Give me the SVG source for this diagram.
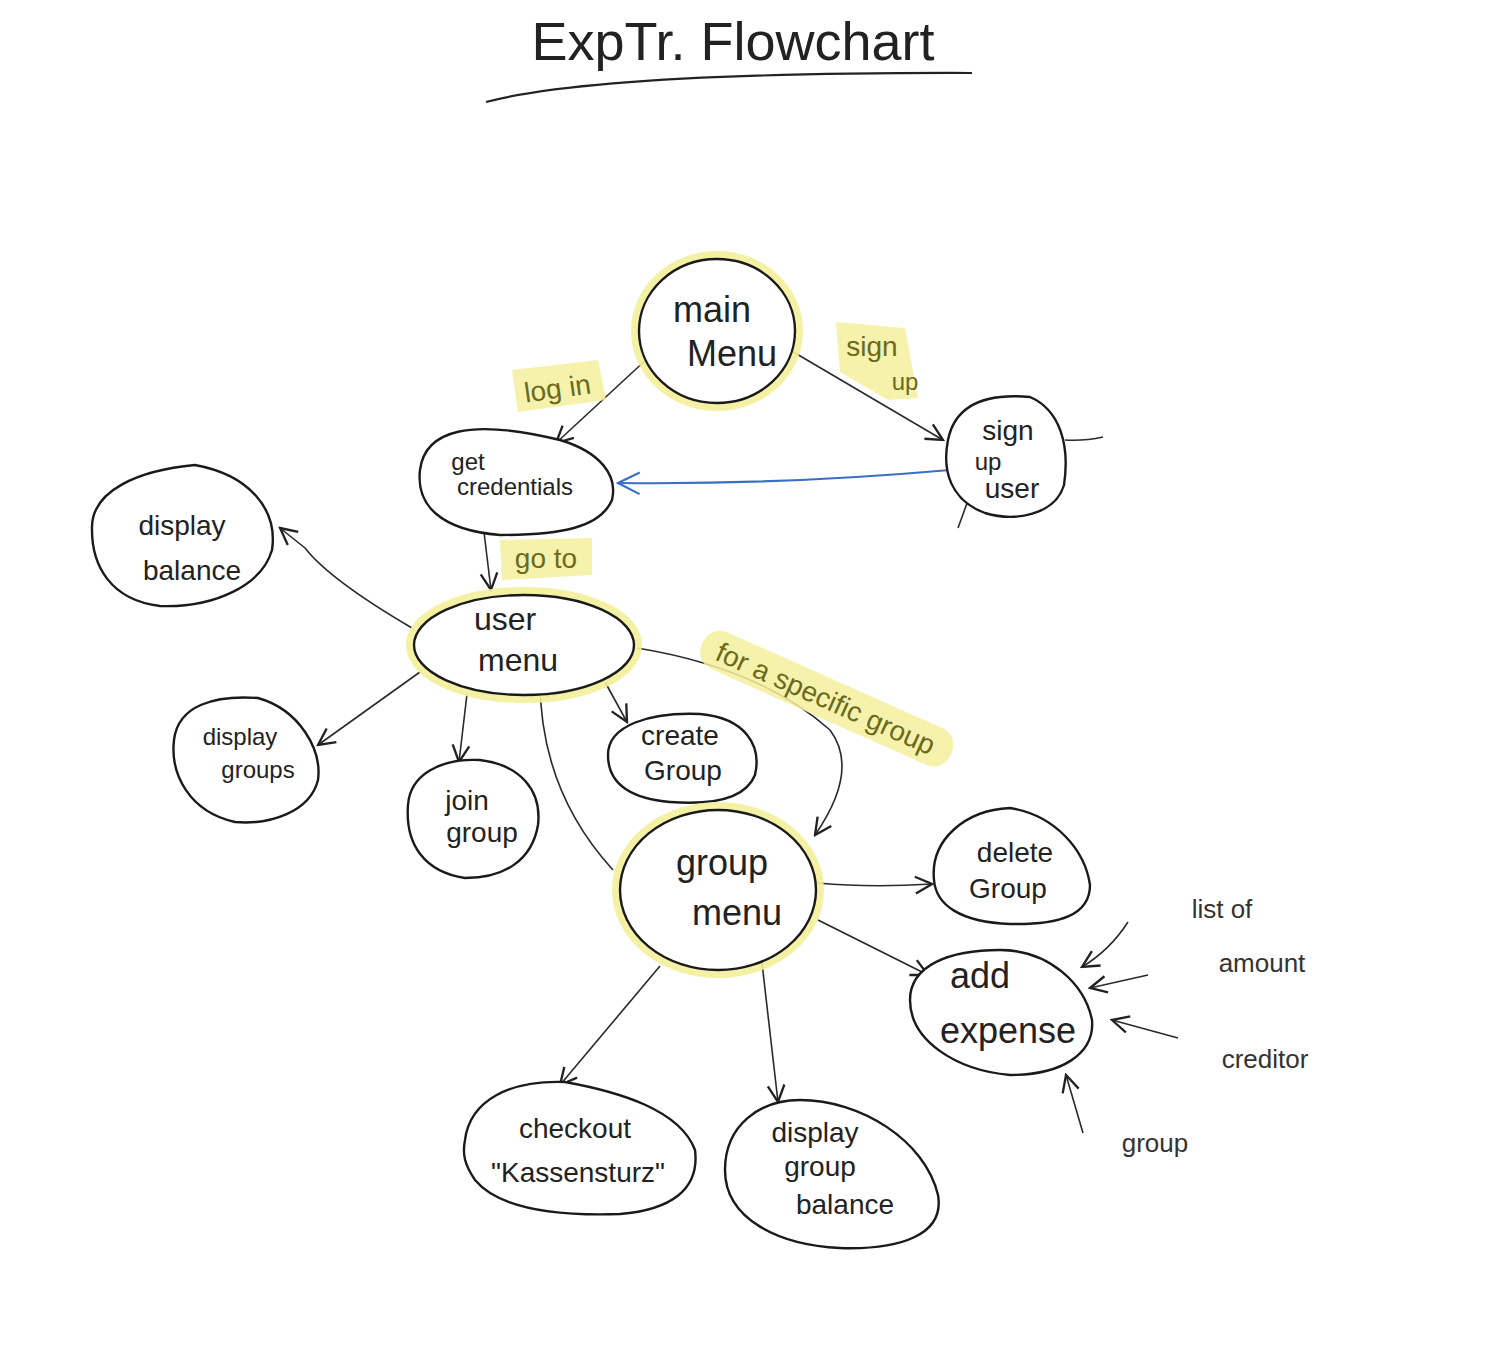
<svg xmlns="http://www.w3.org/2000/svg" width="1510" height="1372" viewBox="0 0 1510 1372">
<style>
.node{fill:#fff;stroke:#1a1a1a;stroke-width:2.4}
.halo{fill:none;stroke:#f3ef9a;stroke-width:16;opacity:.9}
.t{font-family:"Liberation Sans",Arial,sans-serif;fill:#222;text-anchor:middle}
.big{font-size:36px}
.um{font-size:32px}
.mid{font-size:28px}
.sm{font-size:24px}
.edge{fill:none;stroke:#2a2a2a;stroke-width:1.6}
.hl{fill:#f4f09c;opacity:.85}
.ol{fill:#6b6a1c}
.side{font-family:"Liberation Sans",Arial,sans-serif;font-size:26px;fill:#333;text-anchor:middle}
</style>
<defs>
<marker id="arr" viewBox="0 0 12 12" refX="11" refY="6" markerWidth="20" markerHeight="20" markerUnits="userSpaceOnUse" orient="auto">
<path d="M1,1 L11,6 L1,11" fill="none" stroke="#222" stroke-width="1.4"/>
</marker>
<marker id="arrb" viewBox="0 0 12 12" refX="11" refY="6" markerWidth="26" markerHeight="26" markerUnits="userSpaceOnUse" orient="auto">
<path d="M1,1 L11,6 L1,11" fill="none" stroke="#3a6fc4" stroke-width="1"/>
</marker>
</defs>
<rect width="1510" height="1372" fill="#fff"/>

<g id="title">
<text class="t" x="733" y="60" font-size="54" fill="#333">ExpTr. Flowchart</text>
<path d="M486,102 Q600,72 972,73" fill="none" stroke="#222" stroke-width="2.2"/>
</g>

<g id="connectors">
<path class="edge" d="M648,358 L556,443" marker-end="url(#arr)"/>
<path class="edge" d="M790,350 L943,440" marker-end="url(#arr)"/>
<path d="M950,470 Q780,485 618,483" fill="none" stroke="#3a6fc4" stroke-width="2.2" marker-end="url(#arrb)"/>
<path class="edge" d="M484,532 L491,590" marker-end="url(#arr)"/>
<path class="edge" d="M412,628 Q330,580 305,548 L280,528" marker-end="url(#arr)"/>
<path class="edge" d="M420,672 L318,745" stroke-width="2" marker-end="url(#arr)"/>
<path class="edge" d="M467,694 L459,762" marker-end="url(#arr)"/>
<path class="edge" d="M605,682 L627,722" marker-end="url(#arr)"/>
<path class="edge" d="M637,648 Q760,668 830,730 Q860,770 815,835" stroke-width="2" marker-end="url(#arr)"/>
<path class="edge" d="M613,870 Q540,790 540,680" marker-end="url(#arr)"/>
<path class="edge" d="M818,883 Q870,888 932,884" marker-end="url(#arr)"/>
<path class="edge" d="M818,920 L928,975" marker-end="url(#arr)"/>
<path class="edge" d="M660,966 L560,1085" marker-end="url(#arr)"/>
<path class="edge" d="M762,963 L778,1102" marker-end="url(#arr)"/>
<path class="edge" d="M1128,922 Q1110,950 1082,967" marker-end="url(#arr)"/>
<path class="edge" d="M1148,975 L1090,988" marker-end="url(#arr)"/>
<path class="edge" d="M1178,1038 L1112,1020" marker-end="url(#arr)"/>
<path class="edge" d="M1083,1133 L1066,1075" marker-end="url(#arr)"/>
<path class="edge" d="M1065,440 Q1085,441 1103,437"/>
<path class="edge" d="M958,528 L970,495"/>
</g>

<g id="labels">
<path class="hl" d="M512,370 L598,360 L606,400 L518,412 Z"/>
<text class="t mid ol" x="558" y="398" transform="rotate(-8 558 392)">log in</text>
<path class="hl" d="M836,322 L905,328 L918,398 L888,400 L840,372 Z"/>
<text class="t mid ol" x="872" y="356">sign</text>
<text class="t sm ol" x="905" y="390">up</text>
<path class="hl" d="M500,540 L592,538 L592,575 L502,580 Z"/>
<text class="t mid ol" x="546" y="568">go to</text>
<g transform="rotate(24 825 700)">
<rect class="hl" x="690" y="678" width="272" height="40" rx="18"/>
<text class="t mid ol" x="825" y="708">for a specific group</text>
</g>
</g>

<g id="main-menu">
<ellipse class="halo" cx="717" cy="331" rx="78" ry="72"/>
<ellipse class="node" cx="717" cy="331" rx="78" ry="72"/>
<text class="t big" x="712" y="322">main</text>
<text class="t big" x="732" y="366">Menu</text>
</g>

<g id="get-credentials">
<path class="node" d="M420,470 C425,430 470,418 560,440 C600,452 618,475 612,500 C600,528 560,535 500,535 C440,530 416,505 420,470 Z"/>
<text class="t sm" x="468" y="470">get</text>
<text class="t sm" x="515" y="495">credentials</text>
</g>

<g id="sign-up-user">
<path class="node" d="M948,440 C955,405 985,393 1030,397 C1060,410 1070,445 1064,485 C1055,515 1015,522 985,513 C950,500 942,470 948,440 Z"/>
<text class="t mid" x="1008" y="440">sign</text>
<text class="t sm" x="988" y="470">up</text>
<text class="t mid" x="1012" y="498">user</text>
</g>

<g id="display-balance">
<path class="node" d="M92,530 C90,490 140,470 195,465 C250,475 278,510 272,550 C262,585 215,608 160,606 C110,600 92,565 92,530 Z"/>
<text class="t mid" x="182" y="535">display</text>
<text class="t mid" x="192" y="580">balance</text>
</g>

<g id="user-menu">
<ellipse class="halo" cx="524" cy="645" rx="110" ry="50"/>
<ellipse class="node" cx="524" cy="645" rx="110" ry="50"/>
<text class="t um" x="505" y="630">user</text>
<text class="t um" x="518" y="671">menu</text>
</g>

<g id="display-groups">
<path class="node" d="M174,740 C178,705 215,695 258,698 C300,710 322,750 318,780 C310,812 270,825 235,822 C190,812 170,775 174,740 Z"/>
<text class="t sm" x="240" y="745">display</text>
<text class="t sm" x="258" y="778">groups</text>
</g>

<g id="join-group">
<path class="node" d="M408,805 C410,775 440,758 480,760 C520,765 542,790 538,825 C532,860 505,878 465,878 C425,872 405,845 408,805 Z"/>
<text class="t mid" x="467" y="810">join</text>
<text class="t mid" x="482" y="842">group</text>
</g>

<g id="create-group">
<path class="node" d="M608,755 C608,725 650,712 700,714 C745,718 762,745 755,775 C745,800 710,805 670,802 C625,798 608,780 608,755 Z"/>
<text class="t mid" x="680" y="745">create</text>
<text class="t mid" x="683" y="780">Group</text>
</g>

<g id="group-menu">
<ellipse class="halo" cx="718" cy="890" rx="98" ry="80"/>
<ellipse class="node" cx="718" cy="890" rx="98" ry="80"/>
<text class="t big" x="722" y="875">group</text>
<text class="t big" x="737" y="925">menu</text>
</g>

<g id="delete-group">
<path class="node" d="M934,880 C930,840 965,810 1010,808 C1055,815 1085,850 1090,885 C1090,915 1060,925 1010,924 C960,922 936,905 934,880 Z"/>
<text class="t mid" x="1015" y="862">delete</text>
<text class="t mid" x="1008" y="898">Group</text>
</g>

<g id="add-expense">
<path class="node" d="M910,1000 C910,965 950,950 1000,950 C1050,950 1085,985 1092,1020 C1095,1055 1060,1075 1010,1075 C955,1070 910,1040 910,1000 Z"/>
<text class="t big" x="980" y="988">add</text>
<text class="t big" x="1008" y="1043">expense</text>
</g>

<g id="checkout">
<path class="node" d="M465,1140 C470,1100 510,1080 565,1082 C620,1092 680,1110 695,1150 C700,1190 670,1210 620,1214 C560,1216 500,1210 475,1180 C465,1165 462,1155 465,1140 Z"/>
<text class="t mid" x="575" y="1138">checkout</text>
<text class="t mid" x="578" y="1182">"Kassensturz"</text>
</g>

<g id="display-group-balance">
<path class="node" d="M725,1170 C725,1125 760,1100 800,1100 C860,1100 925,1140 938,1195 C945,1235 900,1250 840,1248 C780,1245 725,1220 725,1170 Z"/>
<text class="t mid" x="815" y="1142">display</text>
<text class="t mid" x="820" y="1176">group</text>
<text class="t mid" x="845" y="1214">balance</text>
</g>

<g id="inputs">
<text class="side" x="1222" y="918" fill="#777">list of</text>
<text class="side" x="1262" y="972">amount</text>
<text class="side" x="1265" y="1068">creditor</text>
<text class="side" x="1155" y="1152">group</text>
</g>
</svg>
